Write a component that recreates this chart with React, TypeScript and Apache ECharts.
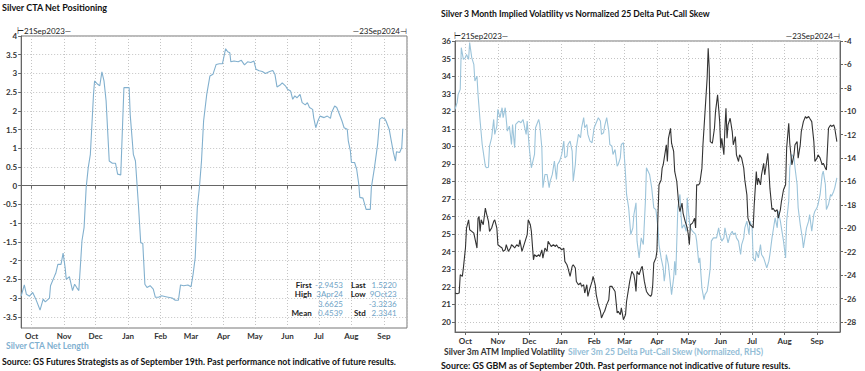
import React, { useEffect, useRef } from 'react';
import * as echarts from 'echarts';

const startDate = [2023, 8, 21];
const endDate = [2024, 8, 23];
const monthNames = ['Jan', 'Feb', 'Mar', 'Apr', 'May', 'Jun', 'Jul', 'Aug', 'Sep', 'Oct', 'Nov', 'Dec'];

// Tick values for the y axes
const ctaTicks = [-3.5, -3, -2.5, -2, -1.5, -1, -0.5, 0, 0.5, 1, 1.5, 2, 2.5, 3, 3.5, 4];
const volTicks = [20, 21, 22, 23, 24, 25, 26, 27, 28, 29, 30, 31, 32, 33, 34, 35, 36];
const skewTicks = [-28, -26, -24, -22, -20, -18, -16, -14, -12, -10, -8, -6, -4];

// Left chart: Silver CTA Net Length (days since 21 Sep 2023)
const ctaDays = [0,3,5,8,11,14,18,21,23,27,28,32,33,35,38,40,42,43,46,49,51,53,55,58,60,62,64,66,69,70,73,75,77,79,81,84,87,90,92,95,98,103,104,107,109,112,114,116,118,120,123,126,128,131,134,139,144,147,150,152,155,159,162,164,166,168,170,172,174,177,180,183,186,189,192,195,197,199,200,203,207,210,213,216,219,222,224,227,230,233,237,240,242,244,247,249,252,254,257,259,261,263,266,268,271,273,275,278,279,281,283,285,289,292,295,296,299,301,303,306,308,311,312,314,315,318,320,322,323,326,329,331,333,334,337,340,342,344,347,348,351,353,355,357,358,361,363,364];
const ctaValues = [-2.95,-2.65,-2.9,-2.95,-2.85,-3.03,-3.32,-3.03,-3.1,-3.0,-2.67,-2.4,-2.34,-2.1,-2.1,-1.8,-2.2,-2.5,-2.43,-2.8,-2.63,-2.72,-2.8,-1.47,-1.12,-0.05,0.49,0.84,2.44,2.8,2.71,2.67,3.04,2.8,2.27,0.66,0.6,0.6,0.31,0.29,2.62,2.62,1.9,0.84,0.66,-0.58,-1.52,-1.54,-2.63,-2.72,-2.67,-2.76,-2.98,-2.98,-2.94,-2.97,-3.0,-3.06,-3.06,-2.65,-2.67,-2.65,-2.7,-2.36,-1.92,-0.58,-0.05,0.66,1.73,2.44,2.93,2.98,3.24,3.26,3.26,3.66,3.58,3.55,3.31,3.33,3.31,3.35,3.23,3.31,3.29,3.33,3.11,3.07,3.05,3.0,3.05,3.08,2.98,2.64,2.69,2.75,2.67,2.58,2.53,2.31,2.4,2.35,2.44,2.22,2.16,2.22,2.09,2.04,1.82,1.55,1.73,1.86,1.82,1.86,1.8,1.95,2.13,2.09,1.95,1.73,1.55,1.51,1.2,0.93,0.62,0.62,0.44,0.04,-0.31,-0.33,-0.63,-0.63,-0.63,-0.05,0.49,1.11,1.78,1.82,1.78,1.73,1.51,1.2,0.89,0.66,0.91,0.89,1.02,1.52];

// Right chart: Silver 3m ATM implied vol (LHS)
const volDays = [0,2,4,5,7,8,10,11,13,14,16,18,21,22,23,24,25,27,29,30,32,33,35,37,38,40,41,43,45,46,48,49,51,53,54,56,57,59,61,62,64,65,67,69,70,72,73,75,76,78,80,81,83,84,86,88,89,91,92,94,96,97,99,100,102,104,105,107,108,110,112,113,115,116,118,120,121,123,124,126,127,129,131,132,134,135,137,139,140,142,143,145,147,148,150,151,153,155,156,158,159,161,163,164,166,167,169,171,172,173,174,176,178,179,181,183,185,187,188,189,190,192,193,194,195,197,198,199,201,202,203,204,206,207,209,210,212,214,215,217,218,220,222,223,224,225,227,229,230,231,233,234,236,237,239,241,242,243,244,246,248,249,251,253,254,255,257,258,259,260,261,263,265,266,268,269,271,272,274,276,277,279,280,282,284,285,286,288,289,290,292,293,295,296,297,299,300,301,303,304,306,308,309,311,312,314,316,317,319,320,322,324,325,327,328,330,331,333,335,336,338,339,341,343,344,346,347,349,351,352,354,355,357,359,360,362,363,365];
const volValues = [21.65,21.61,21.65,22.69,22.6,23.07,24.21,25.35,25.82,25.25,25.16,25.06,24.21,25.91,26.01,25.16,25.82,25.54,26.48,26.2,25.73,25.16,25.35,25.73,25.82,25.35,24.4,24.3,24.21,24.02,24.11,24.4,24.02,24.21,24.4,24.3,24.21,24.4,24.3,24.68,24.02,24.21,24.59,24.97,25.82,25.54,25.16,23.54,23.83,23.73,23.83,23.73,24.11,23.64,24.21,24.02,24.59,24.4,24.3,24.4,24.3,24.4,24.21,24.25,24.11,24.21,23.45,23.26,23.07,22.6,23.17,23.26,23.07,22.31,22.12,22.22,22.03,22.12,21.65,22.12,21.46,21.93,22.31,22.6,22.12,21.56,20.99,20.61,20.23,20.51,20.61,20.99,21.27,22.03,22.03,21.93,21.74,20.51,20.61,20.42,20.8,20.13,20.42,21.18,21.93,22.31,22.88,22.69,22.31,21.74,22.88,22.69,23.07,23.17,22.31,21.74,21.56,21.46,21.56,22.12,23.36,23.64,24.02,26.1,27.81,28.09,28.76,28.95,29.71,30.09,29.14,30.46,31.03,30.18,29.71,28.57,28.0,26.58,26.29,26.77,26.2,25.73,25.35,24.97,24.4,25.54,25.63,25.91,25.35,27.81,27.81,27.91,28.76,30.09,31.98,33.88,35.58,34.45,30.27,30.18,31.03,31.98,32.93,31.41,29.9,30.46,29.52,31.03,32.17,30.46,31.22,31.6,30.84,30.09,30.56,29.52,29.14,29.52,29.33,28.76,28.09,27.24,25.91,25.54,25.44,25.35,26.67,28.57,27.81,28.19,27.81,28.38,29.04,28.38,28.76,29.61,28.66,27.62,26.39,26.48,26.29,26.39,25.91,26.39,26.86,27.53,27.81,29.9,31.32,30.18,28.95,29.52,30.09,30.27,29.33,30.09,30.84,31.41,31.7,31.6,31.7,31.6,31.41,30.27,29.14,29.33,29.52,29.33,28.95,29.04,28.76,28.66,31.03,31.22,31.13,31.22,31.03,30.27];

// Right chart: Silver 3m 25 Delta Put-Call Skew, normalized (RHS)
const skewDays = [0,2,3,5,6,8,10,11,13,14,16,18,19,21,22,24,26,29,30,32,33,35,37,38,40,41,43,45,46,48,50,52,54,55,57,58,61,63,65,68,69,71,73,76,77,80,81,83,84,86,88,90,91,93,95,97,98,100,102,104,105,107,108,110,112,113,115,116,118,120,121,123,124,126,127,129,131,133,135,137,139,140,142,143,145,147,148,150,151,153,155,156,158,159,161,163,164,166,168,170,171,173,174,176,178,180,182,183,186,188,190,192,194,195,197,199,200,201,202,204,206,207,209,210,211,213,215,216,217,219,221,222,224,225,227,230,231,233,234,236,238,239,241,242,244,245,247,250,252,253,255,257,258,260,261,263,265,266,268,269,271,273,274,276,277,279,281,282,284,285,287,288,290,292,293,295,296,298,300,301,303,304,306,308,309,311,312,314,316,317,319,320,322,324,325,327,328,330,332,333,335,336,338,339,341,343,344,346,347,349,351,352,354,355,357,359,360,362,363,365];
const skewValues = [-9.84,-9.27,-8.56,-8.13,-4.57,-5.57,-5.42,-5.14,-5.57,-4.14,-5.42,-6.0,-7.42,-7.0,-8.56,-10.84,-12.84,-14.69,-14.83,-14.78,-12.98,-12.27,-10.7,-11.98,-11.27,-9.84,-10.55,-9.7,-10.55,-9.7,-11.7,-11.27,-12.84,-11.13,-13.12,-11.13,-10.84,-10.98,-10.7,-11.98,-10.84,-13.12,-14.83,-13.69,-11.41,-10.7,-11.13,-13.12,-16.54,-15.4,-15.4,-16.54,-15.97,-15.4,-14.26,-15.83,-14.55,-14.26,-13.69,-12.55,-13.98,-13.84,-12.84,-12.55,-13.41,-15.97,-14.55,-13.12,-11.98,-12.27,-11.41,-10.55,-11.41,-11.13,-11.98,-12.55,-12.69,-11.41,-10.98,-10.55,-10.84,-11.98,-11.84,-11.27,-10.55,-11.7,-12.84,-12.98,-13.69,-13.27,-14.69,-14.55,-13.98,-12.84,-12.69,-15.4,-17.11,-18.25,-20.53,-19.96,-18.82,-17.83,-21.1,-22.53,-20.82,-21.39,-17.68,-14.83,-15.4,-16.54,-18.25,-18.4,-19.96,-21.39,-22.53,-23.38,-24.52,-23.81,-22.24,-23.1,-24.81,-25.67,-24.24,-22.81,-24.0,-18.25,-17.11,-18.82,-20.0,-19.68,-20.25,-17.4,-19.39,-19.96,-20.25,-20.53,-21.1,-22.96,-22.53,-25.1,-26.1,-25.67,-25.38,-24.81,-23.38,-21.1,-20.82,-20.82,-19.96,-20.53,-21.1,-20.82,-19.96,-20.82,-21.25,-20.53,-20.25,-20.53,-20.39,-20.82,-21.1,-22.24,-21.39,-20.82,-19.96,-19.39,-20.53,-19.39,-19.96,-22.53,-22.81,-21.96,-22.53,-21.39,-22.24,-22.53,-22.81,-23.38,-22.81,-22.24,-20.82,-20.25,-19.11,-19.96,-18.54,-19.39,-19.96,-21.1,-22.53,-19.39,-17.68,-14.83,-13.69,-13.98,-14.83,-16.26,-18.25,-19.68,-20.82,-21.67,-20.53,-19.96,-19.39,-18.82,-20.25,-18.82,-18.54,-18.25,-17.97,-17.11,-15.4,-15.12,-16.26,-18.4,-17.97,-17.11,-17.25,-16.83,-16.54,-15.69];

const statsRows = [
  ['First', '-2.9453', 'Last', '1.5220'],
  ['High', '3Apr24', 'Low', '9Oct23'],
  ['', '3.6625', '', '-3.3236'],
  ['Mean', '0.4539', 'Std', '2.3341'],
];

const FONT = 'Lato, "Liberation Sans", sans-serif';
const CTA_BLUE = '#82b0ce';
const SKEW_BLUE = '#9cc4da';
const VOL_BLACK = '#333333';
const DAY = 86400000;

function toTime(d: number) {
  return new Date(startDate[0], startDate[1], startDate[2]).getTime() + d * DAY;
}
function pairs(days: number[], vals: number[]) {
  return days.map((d, i) => [toTime(d), vals[i]]);
}

export default function App() {
  const ref = useRef<HTMLDivElement>(null);
  useEffect(() => {
    if (!ref.current) return;
    const chart = echarts.init(ref.current, undefined, { renderer: 'svg' });
    const xMin = new Date(startDate[0], startDate[1], startDate[2]).getTime();
    const xMax = new Date(endDate[0], endDate[1], endDate[2]).getTime();
    const splitLine = { show: true, lineStyle: { color: '#c4c4c4', type: [1, 2] as any, width: 1 } };
    const axisLabelBase = { fontFamily: FONT, fontSize: 8, fontWeight: 'bold' as const, color: '#333' };
    const xAxisBase = (gridIndex: number, margin: number) => ({
      type: 'time' as const,
      gridIndex,
      min: xMin,
      max: xMax,
      splitNumber: 12,
      minInterval: 28 * DAY,
      maxInterval: 31 * DAY,
      axisLine: { lineStyle: { color: '#666', width: 1 } },
      axisTick: { show: true, length: 3, lineStyle: { color: '#666' } },
      axisLabel: {
        ...axisLabelBase,
        margin,
        showMinLabel: false,
        showMaxLabel: false,
        formatter: (v: number) => {
          const d = new Date(v);
          return d.getDate() === 1 ? monthNames[d.getMonth()] : '';
        },
      },
      splitLine,
    });
    const yAxisBase = (gridIndex: number, min: number, max: number, ticks: number[], right: boolean) => ({
      type: 'value' as const,
      gridIndex,
      position: right ? 'right' : 'left',
      min,
      max,
      axisLine: { show: true, lineStyle: { color: '#666' } },
      axisTick: { show: true, length: 3, lineStyle: { color: '#666' }, customValues: ticks },
      axisLabel: { ...axisLabelBase, margin: 4, customValues: ticks },
      splitLine: right ? { show: false } : splitLine,
    });
    const statTexts: any[] = [];
    const rowY = [284.7, 294.3, 303.7, 313.3];
    const colX = [311.7, 343, 365.7, 396.7];
    statsRows.forEach((row, r) => {
      row.forEach((t, c) => {
        if (!t) return;
        statTexts.push({
          type: 'text',
          x: colX[c],
          y: rowY[r],
          style: {
            text: t,
            fontFamily: FONT,
            fontSize: 8,
            fontWeight: c % 2 === 0 ? 'bold' : 'normal',
            fill: c % 2 === 0 ? '#222' : '#6fa3c6',
            align: 'right',
            verticalAlign: 'middle',
          },
          z: 100,
        });
      });
    });
    const txt = (text: string, x: number, y: number, opts: any = {}) => ({
      type: 'text',
      x,
      y,
      style: {
        text,
        fontFamily: FONT,
        fontSize: 8.7,
        fontWeight: 'bold',
        fill: '#111',
        verticalAlign: 'middle',
        align: 'left',
        ...opts,
      },
      z: 100,
    });
    chart.setOption({
      animation: false,
      backgroundColor: '#ffffff',
      grid: [
        { left: 18, top: 36, width: 389, height: 292, show: true, borderColor: '#777', borderWidth: 1, backgroundColor: '#fff' },
        { left: 455, top: 41, width: 385, height: 291, show: true, borderColor: '#777', borderWidth: 1, backgroundColor: '#fff' },
      ],
      xAxis: [xAxisBase(0, 4), xAxisBase(1, 5)],
      yAxis: [
        yAxisBase(0, -3.8, 4, ctaTicks, false),
        yAxisBase(1, 19.43, 36, volTicks, false),
        yAxisBase(1, -28.86, -4, skewTicks, true),
      ],
      series: [
        {
          type: 'line', xAxisIndex: 0, yAxisIndex: 0, data: pairs(ctaDays, ctaValues),
          showSymbol: false, lineStyle: { color: CTA_BLUE, width: 1.1 }, itemStyle: { color: CTA_BLUE },
        },
        {
          type: 'line', xAxisIndex: 1, yAxisIndex: 2, data: pairs(skewDays, skewValues),
          showSymbol: false, lineStyle: { color: SKEW_BLUE, width: 1.1 }, itemStyle: { color: SKEW_BLUE },
        },
        {
          type: 'line', xAxisIndex: 1, yAxisIndex: 1, data: pairs(volDays, volValues),
          showSymbol: false, lineStyle: { color: VOL_BLACK, width: 1.1 }, itemStyle: { color: VOL_BLACK },
        },
      ],
      graphic: [
        txt('Silver CTA Net Positioning', 2, 7.5, { fontSize: 9 }),
        txt('Silver 3 Month Implied Volatility vs Normalized 25 Delta Put-Call Skew', 441, 13.5, { fontSize: 8.6 }),
        txt('\u22a221Sep2023\u2014', 17, 31, { fontWeight: 'normal', fill: '#222', fontSize: 8 }),
        txt('\u201423Sep2024\u22a3', 407, 31, { fontWeight: 'normal', fill: '#222', align: 'right', fontSize: 8 }),
        txt('\u22a221Sep2023\u2014', 454, 35.5, { fontWeight: 'normal', fill: '#222', fontSize: 8 }),
        txt('\u201423Sep2024\u22a3', 840, 35.5, { fontWeight: 'normal', fill: '#222', align: 'right', fontSize: 8 }),
        txt('Silver CTA Net Length', 6, 346, { fill: '#7fb0d0', fontSize: 8.5 }),
        txt('Source: GS Futures Strategists as of September 19th. Past performance not indicative of future results.', 2, 361.5, { fontSize: 8.7 }),
        txt('Silver 3m ATM Implied Volatility', 444, 352, { fill: '#333', fontSize: 8.5 }),
        txt('Silver 3m 25 Delta Put-Call Skew (Normalized, RHS)', 568, 352, { fill: '#93bdd6', fontSize: 8.5 }),
        txt('Source: GS GBM as of September 20th. Past performance not indicative of future results.', 441, 365.5, { fontSize: 8.9 }),
        ...statTexts,
      ],
    });
    return () => chart.dispose();
  }, []);
  return <div ref={ref} style={{ position: 'fixed', left: 0, top: 0, width: 865, height: 371, background: '#fff' }} />;
}
